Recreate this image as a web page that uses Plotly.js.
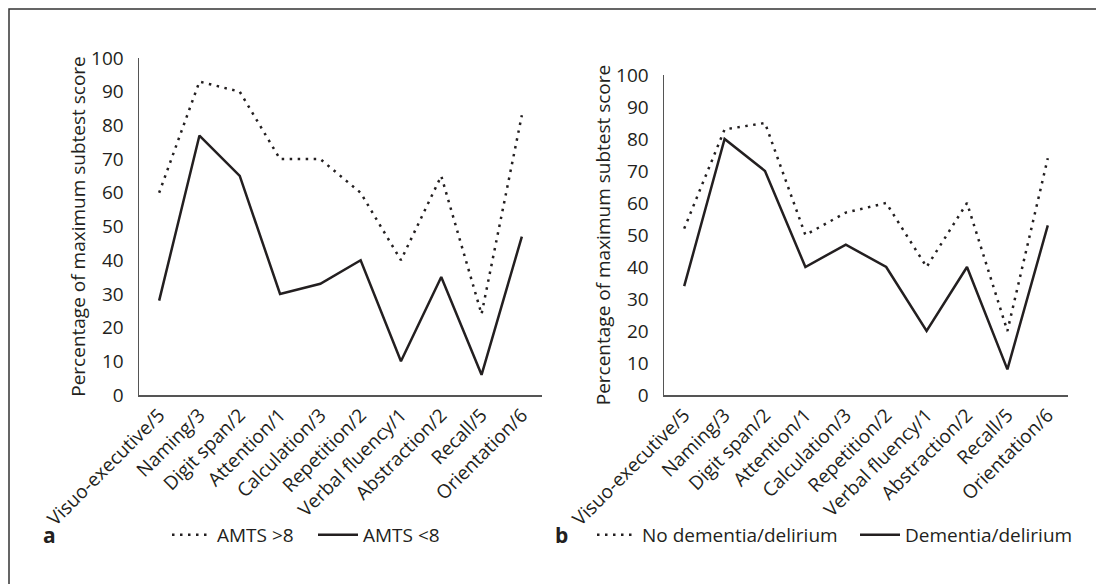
<!DOCTYPE html>
<html>
<head>
<meta charset="utf-8">
<script src="https://cdn.plot.ly/plotly-3.0.1.min.js"></script>
<style>
html,body{margin:0;padding:0;background:#fff;}
#chart{width:1096px;height:584px;}
</style>
</head>
<body>
<div id="chart"></div>
<script>
// ---- data ----
const categories = ['Visuo-executive/5','Naming/3','Digit span/2','Attention/1','Calculation/3','Repetition/2','Verbal fluency/1','Abstraction/2','Recall/5','Orientation/6'];
const amtsAbove8 = [60, 93, 90, 70, 70, 60, 40, 65, 24, 83];
const amtsBelow8 = [28, 77, 65, 30, 33, 40, 10, 35, 6, 47];
const noDementia = [52, 83, 85, 50, 57, 60, 40, 60, 20, 74];
const dementia   = [34, 80, 70, 40, 47, 40, 20, 40, 8, 53];
const yTicks = [0,10,20,30,40,50,60,70,80,90,100];

const W = 1096, H = 584;
const ink = '#231f20';
const txt = '#231f20';
const FONT = '"Open Sans", "DejaVu Sans", sans-serif';
const FS = 19;

const dotLine = {color: ink, width: 2.5, dash: '2.5px,5.5px'};
const solidLine = {color: ink, width: 2.5};

const traces = [
  {x: categories, y: amtsAbove8, type: 'scatter', mode: 'lines', name: 'AMTS >8', line: dotLine, xaxis: 'x', yaxis: 'y', legend: 'legend'},
  {x: categories, y: amtsBelow8, type: 'scatter', mode: 'lines', name: 'AMTS <8', line: solidLine, xaxis: 'x', yaxis: 'y', legend: 'legend2'},
  {x: categories, y: noDementia, type: 'scatter', mode: 'lines', name: 'No dementia/delirium', line: dotLine, xaxis: 'x2', yaxis: 'y2', legend: 'legend3'},
  {x: categories, y: dementia, type: 'scatter', mode: 'lines', name: 'Dementia/delirium', line: solidLine, xaxis: 'x2', yaxis: 'y2', legend: 'legend4'}
];

function px(x){ return x / W; }
function py(y){ return (H - y) / H; }

function xAxis(d0, d1, anchor){
  return {
    domain: [px(d0), px(d1)], anchor: anchor, type: 'category',
    range: [-0.5, categories.length - 0.5],
    showline: true, linecolor: '#555', linewidth: 1.5,
    showgrid: false, zeroline: false, ticks: '',
    tickangle: -45, tickfont: {family: FONT, size: FS, color: txt},
    fixedrange: true
  };
}
function yAxis(top, anchor){
  return {
    domain: [py(395), py(top)], anchor: anchor,
    range: [0, 100], tickmode: 'array', tickvals: yTicks,
    showline: true, linecolor: '#555', linewidth: 1.5,
    showgrid: false, zeroline: false, ticks: '',
    ticklabelstandoff: 10,
    tickfont: {family: FONT, size: FS, color: txt},
    title: {text: 'Percentage of maximum subtest score', font: {family: FONT, size: FS, color: txt}, standoff: 0},
    fixedrange: true
  };
}
function legendAt(x){
  return {
    orientation: 'h', x: px(x), xanchor: 'left', y: py(535), yanchor: 'middle',
    itemwidth: 40, borderwidth: 0, bgcolor: 'rgba(0,0,0,0)',
    font: {family: FONT, size: FS, color: txt}, itemclick: false, itemdoubleclick: false
  };
}

const layout = {
  width: W, height: H,
  margin: {l: 0, r: 0, t: 0, b: 0},
  paper_bgcolor: '#fff', plot_bgcolor: '#fff',
  showlegend: true,
  xaxis: xAxis(139, 542, 'y'),
  yaxis: yAxis(58, 'x'),
  xaxis2: xAxis(664, 1068, 'y2'),
  yaxis2: yAxis(75, 'x2'),
  legend: legendAt(167),
  legend2: legendAt(313),
  legend3: legendAt(592),
  legend4: legendAt(855),
  shapes: [
    {type: 'rect', xref: 'paper', yref: 'paper', x0: px(9), x1: px(1110), y0: py(600), y1: py(9),
     line: {color: '#333', width: 1.5}, fillcolor: 'rgba(0,0,0,0)', layer: 'below'}
  ],
  annotations: [
    {text: '<b>a</b>', xref: 'paper', yref: 'paper', x: px(41), y: py(535), xanchor: 'left', yanchor: 'middle', showarrow: false, font: {family: FONT, size: 21, color: ink}},
    {text: '<b>b</b>', xref: 'paper', yref: 'paper', x: px(553), y: py(535), xanchor: 'left', yanchor: 'middle', showarrow: false, font: {family: FONT, size: 21, color: ink}}
  ]
};

Plotly.newPlot('chart', traces, layout, {displayModeBar: false, staticPlot: true});
</script>
</body>
</html>
